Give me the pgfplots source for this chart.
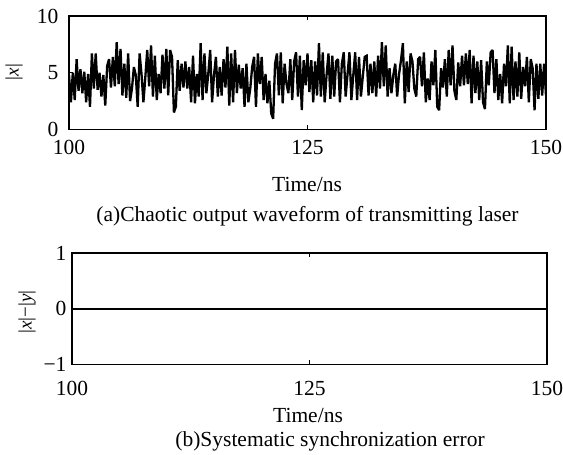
\documentclass[border=0pt]{standalone}
\usepackage{pgfplots}
\pgfplotsset{compat=1.18}
\usepackage{fontspec}
\setmainfont{Liberation Serif}
\pgfplotstableread{
t v
100.0 4.8
100.2 2.4
100.4 5.0
100.6 2.6
100.8 6.2
101.0 3.4
101.2 5.3
101.4 3.2
101.6 5.1
101.8 2.4
102.0 4.9
102.2 2.0
102.4 6.7
102.6 3.6
102.8 6.7
103.0 3.5
103.2 5.0
103.4 2.9
103.6 4.8
103.8 2.1
104.0 5.6
104.2 6.2
104.4 3.7
104.6 6.4
104.8 3.8
105.0 7.7
105.2 4.0
105.4 7.1
105.6 3.0
105.8 5.8
106.0 2.8
106.2 6.7
106.4 2.5
106.6 3.6
106.8 5.5
107.0 4.8
107.2 2.0
107.4 6.7
107.6 4.9
107.8 2.4
108.0 4.6
108.2 7.0
108.4 3.8
108.6 7.4
108.8 2.9
109.0 6.5
109.2 2.6
109.4 4.9
109.6 3.2
109.8 6.6
110.0 3.6
110.2 7.1
110.4 3.0
110.6 7.0
110.8 6.4
111.0 1.5
111.2 2.0
111.4 6.1
111.6 3.4
111.8 5.8
112.0 3.7
112.2 6.0
112.4 3.6
112.6 5.5
112.8 2.4
113.0 6.5
113.2 2.3
113.4 4.9
113.6 2.9
113.8 7.6
114.0 2.6
114.2 6.7
114.4 3.2
114.6 4.9
114.8 7.0
115.0 2.4
115.2 4.8
115.4 6.4
115.6 2.9
115.8 5.5
116.0 3.0
116.2 6.2
116.4 3.7
116.6 7.3
116.8 2.1
117.0 6.7
117.2 2.4
117.4 7.0
117.6 3.2
117.8 5.7
118.0 3.6
118.2 5.4
118.4 2.0
118.6 5.8
118.8 2.4
119.0 3.6
119.2 5.5
119.4 6.4
119.6 2.0
119.8 6.7
120.0 4.0
120.2 6.4
120.4 2.6
120.6 4.9
120.8 2.3
121.0 4.3
121.2 1.4
121.4 0.95
121.6 5.8
121.8 6.7
122.0 3.0
122.2 6.8
122.4 2.3
122.6 5.8
122.8 4.0
123.0 3.2
123.2 6.2
123.4 2.6
123.6 6.0
123.8 6.8
124.0 2.9
124.2 6.5
124.4 1.7
124.6 6.1
124.8 3.9
125.0 6.7
125.2 3.3
125.4 6.1
125.6 2.4
125.8 6.0
126.0 3.0
126.2 7.6
126.4 2.9
126.6 6.8
126.8 2.4
127.0 4.8
127.2 6.7
127.4 2.7
127.6 6.5
127.8 2.9
128.0 6.0
128.2 6.2
128.4 2.4
128.6 5.8
128.8 6.8
129.0 2.9
129.2 4.9
129.4 6.8
129.6 2.6
129.8 4.8
130.0 6.8
130.2 2.6
130.4 6.4
130.6 2.9
130.8 4.7
131.0 6.4
131.2 6.5
131.4 3.0
131.6 5.8
131.8 3.2
132.0 6.0
132.2 2.9
132.4 6.5
132.6 3.6
132.8 7.7
133.0 3.8
133.2 7.4
133.4 2.9
133.6 5.4
133.8 3.2
134.0 4.8
134.2 5.8
134.4 2.9
134.6 4.9
134.8 6.1
135.0 7.6
135.2 2.3
135.4 6.0
135.6 3.3
135.8 6.7
136.0 6.0
136.2 3.6
136.4 2.9
136.6 6.2
136.8 6.4
137.0 3.8
137.2 6.8
137.4 2.4
137.6 4.5
137.8 2.6
138.0 6.0
138.2 3.9
138.4 7.0
138.6 2.0
138.8 1.7
139.0 5.4
139.2 3.7
139.4 6.2
139.6 2.9
139.8 7.0
140.0 3.9
140.2 7.4
140.4 3.4
140.6 2.6
140.8 5.9
141.0 3.8
141.2 6.5
141.4 3.9
141.6 6.7
141.8 4.0
142.0 7.0
142.2 2.3
142.4 6.5
142.6 3.2
142.8 6.0
143.0 2.6
143.2 6.1
143.4 2.4
143.6 1.8
143.8 6.0
144.0 3.9
144.2 6.8
144.4 7.0
144.6 3.2
144.8 6.2
145.0 2.6
145.2 4.9
145.4 2.3
145.6 5.8
145.8 3.8
146.0 7.4
146.2 2.3
146.4 7.3
146.6 2.6
146.8 6.0
147.0 2.9
147.2 6.8
147.4 2.7
147.6 5.5
147.8 3.8
148.0 6.4
148.2 2.4
148.4 6.2
148.6 5.4
148.8 1.7
149.0 5.8
149.2 2.7
149.4 5.8
149.6 3.0
149.8 5.8
150.0 3.0
}\laserdata
\pgfplotstableread{
t e
100 0
125 0
150 0
}\errordata
\pgfplotsset{
  panel/.style={
    scale only axis,
    anchor=south west,
    axis line style={line width=1.1bp},
    tick style={line width=1bp, black},
    major tick length=4bp,
    tick align=inside,
    xmin=100, xmax=150,
    xtick={100,125,150},
    xticklabels={100,125,150},
    tick label style={font=\fontsize{21.5bp}{25bp}\selectfont},
  }
}
\begin{document}
\begin{tikzpicture}[font=\fontsize{21.5bp}{25bp}\selectfont]
\useasboundingbox (0,0) rectangle (563bp,455bp);
\begin{axis}[panel,
  at={(69bp,325.5bp)}, width=477bp, height=113.5bp,
  ymin=0, ymax=10, ytick={0,5,10}, yticklabels={0,5,10},
  xticklabel style={anchor=base, yshift=-25bp},
  yticklabel style={xshift=-7bp}]
\addplot[black, line width=2.3bp, line join=miter, miter limit=2] table[x=t, y=v] {\laserdata};
\end{axis}
\begin{axis}[panel,
  at={(72bp,90.5bp)}, width=475bp, height=111.5bp,
  ymin=-1, ymax=1, ytick={-1,0,1}, yticklabels={−1,0,1},
  xticklabel style={anchor=base, yshift=-30.5bp},
  yticklabel style={xshift=-2bp}]
\addplot[black, line width=1.6bp] table[x=t, y=e] {\errordata};
\end{axis}
\node[anchor=base] at (307bp,263bp) {Time/ns};
\node[anchor=base] at (307.5bp,233bp) {(a)Chaotic output waveform of transmitting laser};
\node[rotate=90, font=\fontsize{19bp}{22bp}\selectfont] at (14bp,383bp) {|\textit{x}|};
\node[anchor=base] at (308bp,33bp) {Time/ns};
\node[anchor=base] at (330bp,9bp) {(b)Systematic synchronization error};
\node[rotate=90, font=\fontsize{19bp}{22bp}\selectfont] at (27bp,143bp) {|\textit{x}|−|\textit{y}|};
\end{tikzpicture}
\end{document}
